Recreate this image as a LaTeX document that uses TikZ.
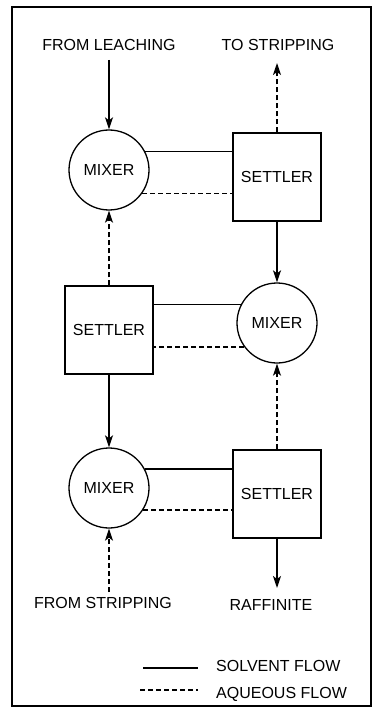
\documentclass[tikz,border=0pt]{standalone}
\usepackage{fontspec}
\setmainfont{Liberation Sans}
\usetikzlibrary{arrows.meta}
\begin{document}
\begin{tikzpicture}[x=1pt,y=-1pt,
  lbl/.style={font=\fontsize{16}{18}\selectfont, inner sep=0pt},
  mixer/.style={circle, draw, line width=1.3pt, minimum size=80pt, inner sep=0pt, font=\fontsize{16}{18}\selectfont},
  settler/.style={rectangle, draw, line width=1.3pt, minimum size=88pt, inner sep=0pt, font=\fontsize{16}{18}\selectfont},
  solv/.style={line width=1.6pt},
  aq/.style={line width=1.6pt, dash pattern=on 5pt off 3pt},
  arr/.style={-{Stealth[length=12pt,width=8pt,inset=3pt]}}
]
\useasboundingbox (0,0) rectangle (373,711);
\node[draw, line width=1.3pt, minimum width=359pt, minimum height=699pt, inner sep=0pt] (frame) at (191.5,356.5) {};

% units
\node[mixer] (M1) at (109,170) {MIXER};
\node[settler] (S1) at (277,177) {SETTLER};
\node[settler] (S2) at (109,330) {SETTLER};
\node[mixer] (M2) at (277,323) {MIXER};
\node[mixer] (M3) at (109,488) {MIXER};
\node[settler] (S3) at (277,494) {SETTLER};

% labels
\node[lbl] (leach) at (109,45) {FROM LEACHING};
\node[lbl] (tostrip) at (278,45) {TO STRIPPING};
\node[lbl] (fromstrip) at (103,603) {FROM STRIPPING};
\node[lbl] (raff) at (271,605) {RAFFINITE};

% free ends
\coordinate (leachend) at (109,60);
\coordinate (tostripend) at (277,63);
\coordinate (fromstripend) at (109,592);
\coordinate (raffend) at (277,588);

% horizontal connections
\draw[solv] (M1.27) -- (M1.27 -| S1.west);
\draw[aq] (M1.-35) -- (M1.-35 -| S1.west);
\draw[solv] (M2.153) -- (M2.153 -| S2.east);
\draw[aq] (M2.216) -- (M2.216 -| S2.east);
\draw[solv] (M3.28) -- (M3.28 -| S3.west);
\draw[aq] (M3.-33) -- (M3.-33 -| S3.west);

% vertical flows
\draw[solv,arr] (leachend) -- (M1.north);
\draw[aq,arr] (S1.north) -- (tostripend);
\draw[solv,arr] (S1.south) -- (M2.north);
\draw[aq,arr] (S2.north) -- (M1.south);
\draw[solv,arr] (S2.south) -- (M3.north);
\draw[aq,arr] (S3.north) -- (M2.south);
\draw[solv,arr] (S3.south) -- (raffend);
\draw[aq,arr] (fromstripend) -- (M3.south);

% legend
\coordinate (ls1) at (143,668);
\coordinate (ls2) at (198,668);
\coordinate (la1) at (140,690);
\coordinate (la2) at (198,690);
\draw[solv] (ls1) -- (ls2);
\draw[aq] (la1) -- (la2);
\node[lbl, anchor=base west] (lsolv) at (216,671) {SOLVENT FLOW};
\node[lbl, anchor=base west] (laq) at (216,698) {AQUEOUS FLOW};
\end{tikzpicture}
\end{document}
